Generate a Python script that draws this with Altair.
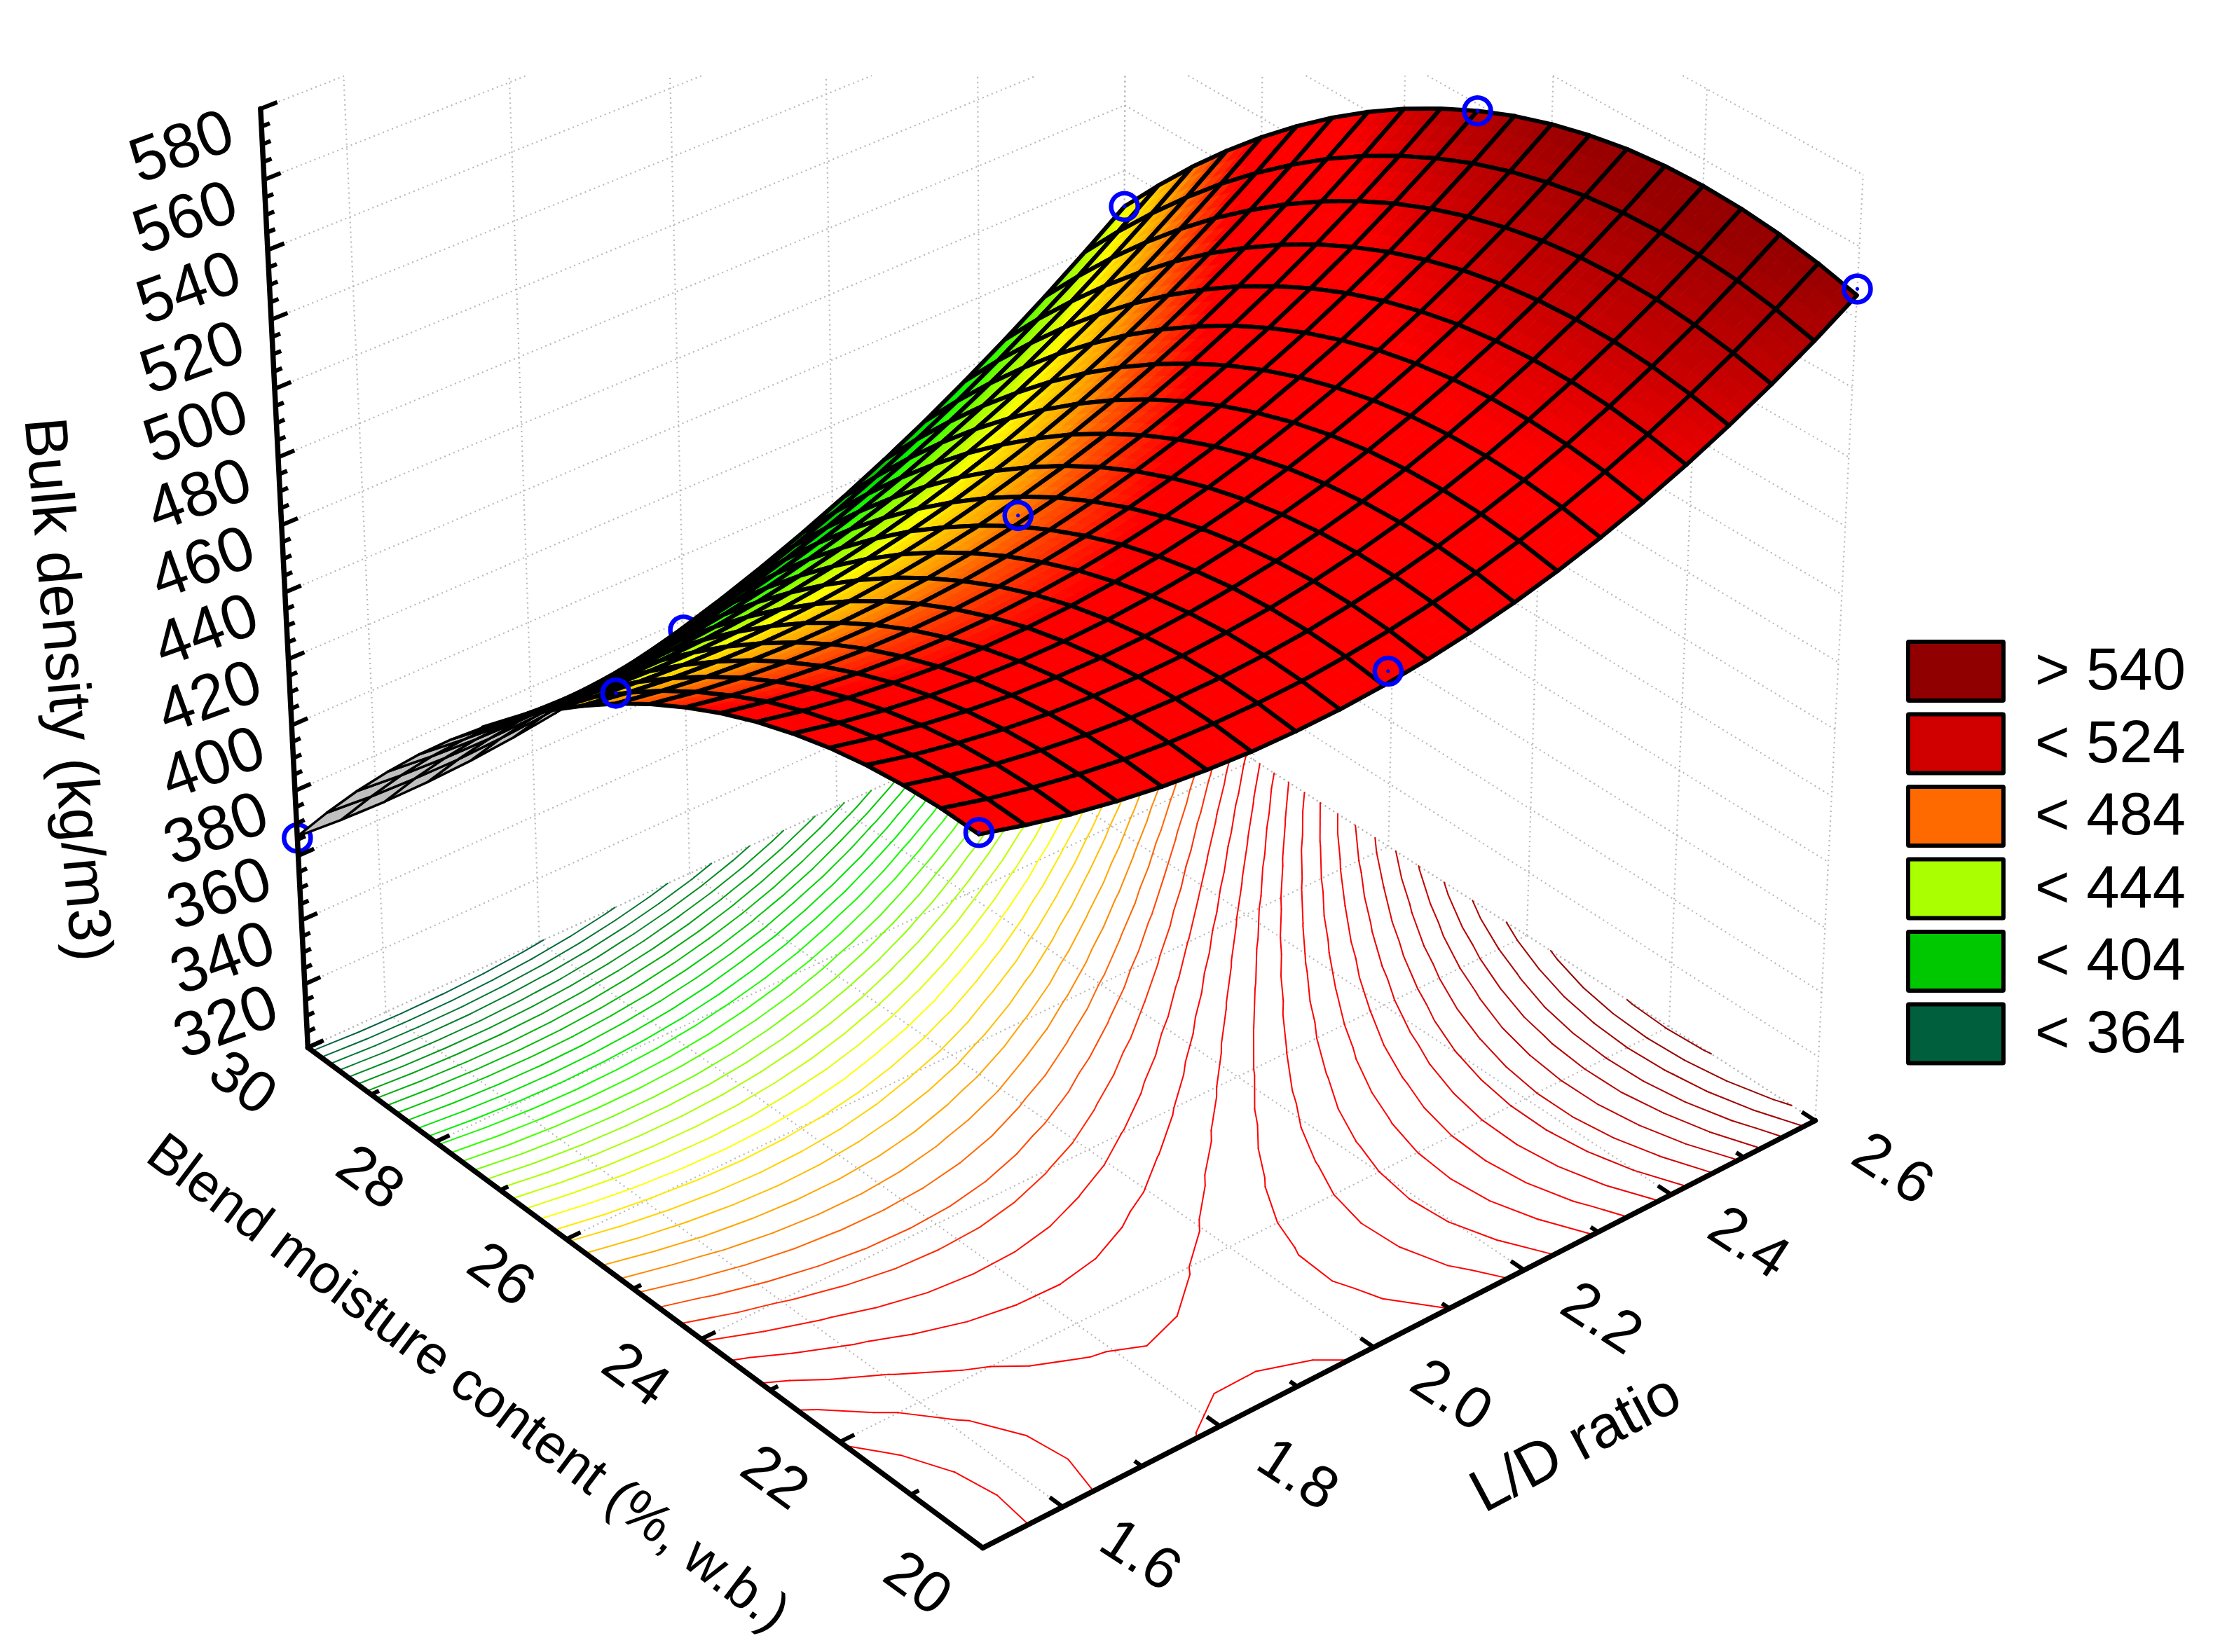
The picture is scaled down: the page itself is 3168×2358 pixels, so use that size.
import numpy as np
import pandas as pd
import altair as alt

alt.data_transformers.disable_max_rows()

# ---- values
moisture_nodes = [20 + 0.5 * i for i in range(21)]
ld_nodes = [1.5 + 0.055 * j for j in range(21)]
density_m20_0 = [507.5,504.1,501.2,498.9,497.1,495.9,495.2,495.1,495.5,496.5,498.1,500.2,502.9,506.2,510.1,514.6,519.7,525.4,531.7,538.6,546.2]
density_m20_5 = [507.7,504.4,501.7,499.5,497.8,496.7,496.2,496.2,496.7,497.9,499.6,501.8,504.7,508.1,512.1,516.7,521.9,527.8,534.2,541.3,549.0]
density_m21_0 = [507.1,504.0,501.3,499.3,497.8,496.8,496.4,496.5,497.2,498.4,500.3,502.6,505.6,509.2,513.3,518.0,523.4,529.4,535.9,543.2,551.0]
density_m21_5 = [505.8,502.7,500.3,498.3,496.9,496.1,495.8,496.0,496.9,498.2,500.2,502.7,505.8,509.5,513.7,518.6,524.1,530.2,536.9,544.2,552.2]
density_m22_0 = [503.7,500.8,498.4,496.6,495.3,494.6,494.4,494.8,495.8,497.3,499.3,502.0,505.2,509.0,513.4,518.4,524.0,530.2,537.0,544.5,552.6]
density_m22_5 = [500.8,498.0,495.8,494.1,493.0,492.4,492.3,492.8,493.9,495.5,497.7,500.5,503.8,507.8,512.3,517.4,523.1,529.4,536.4,544.0,552.2]
density_m23_0 = [497.2,494.5,492.4,490.9,489.8,489.4,489.5,490.1,491.3,493.0,495.4,498.2,501.7,505.8,510.4,515.6,521.5,527.9,535.0,542.7,551.0]
density_m23_5 = [492.8,490.3,488.3,486.8,485.9,485.6,485.8,486.6,487.9,489.8,492.2,495.2,498.8,503.0,507.7,513.1,519.0,525.6,532.7,540.5,548.9]
density_m24_0 = [487.6,485.2,483.4,482.1,481.3,481.1,481.4,482.3,483.7,485.7,488.3,491.4,495.1,499.4,504.3,509.7,515.8,522.4,529.7,537.6,546.1]
density_m24_5 = [481.7,479.4,477.7,476.5,475.9,475.8,476.2,477.2,478.8,480.9,483.6,486.9,490.7,495.1,500.1,505.6,511.8,518.5,525.9,533.9,542.5]
density_m25_0 = [475.0,472.9,471.2,470.2,469.7,469.7,470.3,471.4,473.1,475.4,478.2,481.6,485.5,490.0,495.1,500.7,507.0,513.8,521.3,529.3,538.0]
density_m25_5 = [467.5,465.5,464.0,463.1,462.7,462.9,463.6,464.9,466.7,469.0,472.0,475.5,479.5,484.1,489.3,495.1,501.4,508.4,515.9,524.0,532.7]
density_m26_0 = [459.3,457.4,456.1,455.3,455.0,455.3,456.1,457.5,459.5,461.9,465.0,468.6,472.8,477.5,482.8,488.6,495.1,502.1,509.7,517.9,526.7]
density_m26_5 = [450.3,448.6,447.3,446.7,446.5,446.9,447.9,449.4,451.5,454.1,457.2,461.0,465.2,470.1,475.5,481.4,487.9,495.0,502.7,511.0,519.8]
density_m27_0 = [440.6,438.9,437.8,437.3,437.3,437.8,438.9,440.5,442.7,445.4,448.7,452.6,456.9,461.9,467.4,473.4,480.0,487.2,494.9,503.2,512.1]
density_m27_5 = [430.1,428.5,427.6,427.2,427.3,427.9,429.1,430.9,433.2,436.0,439.4,443.4,447.9,452.9,458.5,464.6,471.3,478.6,486.4,494.7,503.6]
density_m28_0 = [418.8,417.4,416.5,416.2,416.5,417.3,418.6,420.5,422.9,425.9,429.4,433.4,438.0,443.2,448.8,455.1,461.8,469.1,477.0,485.4,494.3]
density_m28_5 = [406.7,405.5,404.8,404.6,404.9,405.9,407.3,409.3,411.9,414.9,418.6,422.7,427.4,432.7,438.4,444.7,451.6,458.9,466.8,475.2,484.2]
density_m29_0 = [393.9,392.8,392.2,392.1,392.6,393.7,395.3,397.4,400.0,403.2,407.0,411.2,416.0,421.4,427.2,433.6,440.5,447.9,455.9,464.3,473.3]
density_m29_5 = [380.3,379.3,378.9,378.9,379.6,380.7,382.4,384.7,387.5,390.8,394.6,399.0,403.9,409.3,415.3,421.7,428.7,436.2,444.1,452.6,461.5]
density_m30_0 = [366.0,365.1,364.8,365.0,365.7,367.0,368.8,371.2,374.1,377.5,381.5,386.0,391.0,396.5,402.5,409.0,416.1,423.6,431.6,440.1,449.0]
Z = np.array([density_m20_0, density_m20_5, density_m21_0, density_m21_5, density_m22_0, density_m22_5, density_m23_0,
              density_m23_5, density_m24_0, density_m24_5, density_m25_0, density_m25_5, density_m26_0, density_m26_5,
              density_m27_0, density_m27_5, density_m28_0, density_m28_5, density_m29_0, density_m29_5, density_m30_0])

design_moisture = [30, 30, 30, 25, 25, 25, 20, 20, 20]
design_ld = [1.5, 2.0, 2.6, 1.5, 2.0, 2.6, 1.5, 2.0, 2.6]
design_density = [365.5, 377, 449, 478, 478, 538, 508, 500, 548]
design_behind = [True, True, False, False, False, False, False, False, False]

legend_labels = ["> 540", "< 524", "< 484", "< 444", "< 404", "< 364"]
legend_colors = ["#900000", "#d00000", "#ff6a00", "#aaff00", "#00c800", "#005f3c"]

density_ticks = list(range(300, 581, 5))
density_labels = list(range(320, 581, 20))
moisture_ticks = list(range(20, 31))
moisture_labels = [20, 22, 24, 26, 28, 30]
ld_ticks = [1.6, 1.7, 1.8, 1.9, 2.0, 2.1, 2.2, 2.3, 2.4, 2.5, 2.6]
ld_labels = [1.6, 1.8, 2.0, 2.2, 2.4, 2.6]
contour_levels = list(range(368, 560, 4))

color_stops = [(300, "#004a48"), (364, "#005a46"), (384, "#008a24"), (404, "#00c800"), (416, "#00f000"), (424, "#30ff00"),
               (436, "#90ff00"), (444, "#c0ff00"), (452, "#ffff00"), (462, "#ffc800"), (470, "#ff9900"),
               (478, "#ff5500"), (490, "#ff0000"), (515, "#ff0000"), (530, "#c80000"), (548, "#980000"), (600, "#880000")]

# ---- camera of the 3D box
P = np.array([[0.2552618415729522, -0.3702282224712523, 0.026405193184918203, -0.38483488274804317],
              [0.16529670904887375, 0.1399752744080857, 0.3978408248977182, -0.6062052979502595],
              [-0.02050279752919186, -0.017108699373856534, 0.017415547813562488, -0.27437692326984847]])
CLIP_TOP = 108
W, H = 3168, 2358
FONT = "Liberation Sans"


def hom(m, l, z):
    return P @ np.array([(m - 20) / 10, (l - 1.5) / 1.1, (z - 300) / 280, 1.0])


def px(m, l, z):
    a = hom(m, l, z)
    return (a[0] / a[2] * 1000, a[1] / a[2] * 1000)


def mix(z):
    for (z0, c0), (z1, c1) in zip(color_stops, color_stops[1:]):
        if z <= z1:
            t = max(0.0, (z - z0) / (z1 - z0))
            a = [int(c0[i:i + 2], 16) for i in (1, 3, 5)]
            b = [int(c1[i:i + 2], 16) for i in (1, 3, 5)]
            return "#%02x%02x%02x" % tuple(round(p + (q - p) * t) for p, q in zip(a, b))
    return color_stops[-1][1]


def seg(rows, a, b, color="#000000", clip=False):
    (x0, y0), (x1, y1) = a, b
    if clip:
        if y0 < CLIP_TOP and y1 < CLIP_TOP:
            return
        if y0 < CLIP_TOP:
            t = (CLIP_TOP - y0) / (y1 - y0)
            x0, y0 = x0 + (x1 - x0) * t, CLIP_TOP
        if y1 < CLIP_TOP:
            t = (CLIP_TOP - y1) / (y0 - y1)
            x1, y1 = x1 + (x0 - x1) * t, CLIP_TOP
    rows.append(dict(x=x0, y=y0, x2=x1, y2=y1, color=color))


X_ENC = alt.X("x:Q", scale=alt.Scale(domain=[8, W - 8], nice=False, zero=False), axis=None)
Y_ENC = alt.Y("y:Q", scale=alt.Scale(domain=[H - 8, 8], nice=False, zero=False), axis=None)


def rules(rows, **mark):
    return alt.Chart(pd.DataFrame(rows)).mark_rule(**mark).encode(
        x=X_ENC, y=Y_ENC, x2="x2:Q", y2="y2:Q", color=alt.Color("color:N", scale=None))


# ---- dotted walls and floor
grid = []
LD0, LD1, M0, M1, Z0, Z1 = 1.5, 2.6, 20, 30, 300, 580
for z in range(300, 581, 20):
    seg(grid, px(M1, LD0, z), px(M1, LD1, z), "#b8b8b8", True)
    seg(grid, px(M1, LD1, z), px(M0, LD1, z), "#b8b8b8", True)
for l in ld_labels:
    seg(grid, px(M1, l, Z0), px(M1, l, Z1), "#b8b8b8", True)
    seg(grid, px(M1, l, Z0), px(M0, l, Z0), "#b8b8b8", True)
for m in moisture_labels:
    seg(grid, px(m, LD1, Z0), px(m, LD1, Z1), "#b8b8b8", True)
    seg(grid, px(m, LD0, Z0), px(m, LD1, Z0), "#b8b8b8", True)

# ---- contour lines on the floor
contours = []
nm, nl = len(moisture_nodes), len(ld_nodes)
for lev in contour_levels:
    col = mix(lev)
    for i in range(nm - 1):
        for j in range(nl - 1):
            corners = [(i, j), (i + 1, j), (i + 1, j + 1), (i, j + 1)]
            pts = []
            for k in range(4):
                a, b = corners[k], corners[(k + 1) % 4]
                za, zb = Z[a], Z[b]
                if (za < lev) != (zb < lev):
                    t = (lev - za) / (zb - za)
                    m = moisture_nodes[a[0]] + (moisture_nodes[b[0]] - moisture_nodes[a[0]]) * t
                    l = ld_nodes[a[1]] + (ld_nodes[b[1]] - ld_nodes[a[1]]) * t
                    pts.append(px(m, l, Z0))
            if len(pts) == 2:
                seg(contours, pts[0], pts[1], col)
            elif len(pts) == 4:
                seg(contours, pts[0], pts[1], col)
                seg(contours, pts[2], pts[3], col)

# ---- surface, painted far to near
SUB = 3


def area(q):
    return sum(q[k][0] * q[(k + 1) % 4][1] - q[(k + 1) % 4][0] * q[k][1] for k in range(4))


def node(i, j):
    return px(moisture_nodes[i], ld_nodes[j], Z[i, j])


front_sign = np.sign(area([node(0, 0), node(1, 0), node(1, 1), node(0, 1)]))
order = sorted(((abs(hom(moisture_nodes[i] + 0.25, ld_nodes[j] + 0.0275, (Z[i, j] + Z[i + 1, j + 1]) / 2)[2]), i, j)
                for i in range(nm - 1) for j in range(nl - 1)), reverse=True)
features = []


def feat(kind, coords, fill, stroke, sw):
    features.append({"type": "Feature", "geometry": {"type": kind, "coordinates": coords},
                     "properties": {"fill": fill, "stroke": stroke, "sw": sw}})


for _, i, j in order:
    quad = [node(i, j), node(i + 1, j), node(i + 1, j + 1), node(i, j + 1)]
    under = np.sign(area(quad)) != front_sign
    z00, z10, z11, z01 = Z[i, j], Z[i + 1, j], Z[i + 1, j + 1], Z[i, j + 1]
    m0, m1, l0, l1 = moisture_nodes[i], moisture_nodes[i + 1], ld_nodes[j], ld_nodes[j + 1]

    def sp(a, b):
        zz = z00 * (1 - a) * (1 - b) + z10 * a * (1 - b) + z11 * a * b + z01 * (1 - a) * b
        return px(m0 + (m1 - m0) * a, l0 + (l1 - l0) * b, zz), zz

    for a in range(SUB):
        for b in range(SUB):
            ring = [sp(a / SUB, b / SUB), sp((a + 1) / SUB, b / SUB), sp((a + 1) / SUB, (b + 1) / SUB), sp(a / SUB, (b + 1) / SUB)]
            c = "#c0c0c0" if under else mix(sum(r[1] for r in ring) / 4)
            coords = [list(r[0]) for r in ring]
            coords.append(coords[0])
            feat("Polygon", [coords], c, c, 1)
    edge = [list(p) for p in quad]
    edge.append(edge[0])
    feat("LineString", edge, "transparent", "#000000", 3.5 if under else 6)

surface = (alt.Chart(alt.Data(values=features))
           .mark_geoshape(strokeJoin="round", strokeCap="round")
           .encode(fill=alt.Fill("properties.fill:N", scale=None),
                   stroke=alt.Stroke("properties.stroke:N", scale=None),
                   strokeWidth=alt.StrokeWidth("properties.sw:Q", scale=None))
           .project(type="identity", scale=1, translate=[-8, -8]))

# ---- design points
pts = []
for m, l, z, b in zip(design_moisture, design_ld, design_density, design_behind):
    x, y = px(m, l, z)
    pts.append(dict(x=x, y=y, behind=b))
pts = pd.DataFrame(pts)


def rings(df):
    base = alt.Chart(df).encode(x=X_ENC, y=Y_ENC)
    return [base.mark_point(shape="circle", size=1450, filled=False, stroke="#0000ff", strokeWidth=6.5, opacity=1),
            base.mark_point(shape="circle", size=12, filled=True, fill="#0000ff", stroke="#0000ff", opacity=1)]


# ---- axes
axes, ticks = [], []
seg(axes, px(M1, LD0, Z0), px(M1, LD0, Z1))
seg(axes, px(M1, LD0, Z0), px(M0, LD0, Z0))
seg(axes, px(M0, LD0, Z0), px(M0, LD1, Z0))
for z in density_ticks:
    d = 0.02 if z % 20 == 0 else 0.01
    seg(ticks, px(M1, LD0, z), px(M1, LD0 + d, z))
for m in moisture_ticks:
    d = 0.018 if m % 2 == 0 else 0.01
    seg(ticks, px(m, LD0, Z0), px(m, LD0 + d, Z0))
for l in ld_ticks:
    d = 0.18 if round(l * 10) % 2 == 0 else 0.1
    seg(ticks, px(M0, l, Z0), px(M0 + d, l, Z0))

# ---- texts
texts = []
for z in density_labels:
    x, y = px(M1, LD0, z)
    texts.append(dict(x=x - 112, y=y + 56, t=str(z), a=340, s=90))
for m in moisture_labels:
    x, y = px(m, LD0, Z0)
    texts.append(dict(x=x - 94, y=y + 52, t=str(m), a=36, s=84))
for l in ld_labels:
    x, y = px(M0, l, Z0)
    texts.append(dict(x=x + 110, y=y + 70, t="%.1f" % l, a=33, s=84))
texts.append(dict(x=95, y=984, t="Bulk density (kg/m3)", a=85, s=86))
texts.append(dict(x=667, y=1975, t="Blend moisture content (%, w.b.)", a=37, s=78))
texts.append(dict(x=2249, y=2061, t="L/D ratio", a=332, s=86))
text_layer = alt.Chart(pd.DataFrame(texts)).mark_text(font=FONT, color="#000000").encode(
    x=X_ENC, y=Y_ENC, text="t:N", angle=alt.Angle("a:Q", scale=None), size=alt.Size("s:Q", scale=None))

# ---- legend
leg = []
for k, (lab, col) in enumerate(zip(legend_labels, legend_colors)):
    top = 916 + k * 103.5
    leg.append(dict(x=2723, x2=2859, y=top, y2=top + 84, color=col, t=lab, tx=2904, ty=top + 42))
leg = pd.DataFrame(leg)
leg_rect = alt.Chart(leg).mark_rect(stroke="#000000", strokeWidth=6, cornerRadius=1, opacity=1).encode(
    x=X_ENC, x2="x2:Q", y=Y_ENC, y2="y2:Q", fill=alt.Fill("color:N", scale=None))
leg_text = alt.Chart(leg).mark_text(font=FONT, fontSize=85, align="left", color="#000000").encode(
    x=alt.X("tx:Q", scale=alt.Scale(domain=[8, W - 8], nice=False, zero=False), axis=None),
    y=alt.Y("ty:Q", scale=alt.Scale(domain=[H - 8, 8], nice=False, zero=False), axis=None), text="t:N")

chart = alt.layer(
    rules(grid, strokeWidth=2.2, strokeDash=[2, 5]),
    rules(contours, strokeWidth=2, strokeCap="round"),
    *rings(pts[pts.behind]),
    surface,
    *rings(pts[~pts.behind]),
    rules(ticks, strokeWidth=6),
    rules(axes, strokeWidth=7.5, strokeCap="round"),
    text_layer, leg_rect, leg_text,
).properties(width=W - 16, height=H - 16, padding=0, autosize=alt.AutoSizeParams(type="none")).configure_view(stroke=None)

chart.save("out.html", embed_options={"renderer": "svg", "actions": False})
